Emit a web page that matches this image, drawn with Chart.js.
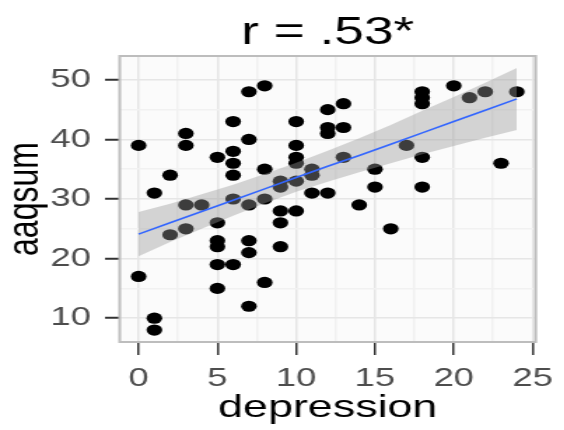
<!DOCTYPE html>
<html>
<head>
<meta charset="utf-8">
<script src="https://cdn.jsdelivr.net/npm/chart.js@4"></script>
<style>
  html, body { margin: 0; padding: 0; background: #fff; }
  /* the reference is stretched sideways, so draw narrow and widen */
  #wrap { width: 403px; height: 430px; transform: scaleX(1.4); transform-origin: 0 0; }
</style>
</head>
<body>
<div id="wrap"><canvas id="myChart"></canvas></div>
<script>
const depression = [0, 0, 1, 1, 1, 2, 2, 3, 3, 3, 3, 4,
  5, 5, 5, 5, 5, 5, 6, 6, 6, 6, 6, 6, 7, 7, 7, 7, 7, 7,
  8, 8, 8, 8, 9, 9, 9, 9, 9, 10, 10, 10, 10, 10, 10,
  11, 11, 11, 12, 12, 12, 12, 13, 13, 13, 14, 15, 15, 16, 17,
  18, 18, 18, 18, 18, 20, 21, 22, 23, 24];
const aaqsum = [39, 17, 31, 10, 8, 34, 24, 41, 39, 29, 25, 29,
  37, 26, 23, 22, 19, 15, 43, 38, 36, 34, 30, 19, 48, 40, 29, 23, 21, 12,
  49, 35, 30, 16, 33, 32, 28, 26, 22, 43, 39, 37, 36, 33, 28,
  35, 34, 31, 45, 42, 41, 31, 46, 42, 37, 29, 35, 32, 25, 39,
  48, 47, 46, 37, 32, 49, 47, 48, 36, 48];

// fitted line and its band
const fitX = [0, 2, 4, 6, 8, 10, 12, 14, 16, 18, 20, 22, 24];
const fitY = [24.1, 26.0, 27.9, 29.8, 31.7, 33.6, 35.5, 37.3, 39.2, 41.1, 43.0, 44.9, 46.8];
const bandHigh = [27.8, 29.2, 30.8, 32.4, 34.2, 36.1, 38.1, 40.2, 42.4, 44.8, 47.1, 49.5, 52.0];
const bandLow = [20.4, 22.8, 25.0, 27.2, 29.3, 31.2, 32.9, 34.5, 36.0, 37.5, 38.9, 40.3, 41.6];

const xTicks = [0, 5, 10, 15, 20, 25];
const xMinor = [2.5, 7.5, 12.5, 17.5, 22.5];
const yTicks = [10, 20, 30, 40, 50];
const yMinor = [15, 25, 35, 45];

const FONT = 'Liberation Sans, Arial, Helvetica, sans-serif';

const pts = depression.map((x, i) => ({ x: x, y: aaqsum[i] }));
const xy = (xs, ys) => xs.map((x, i) => ({ x: x, y: ys[i] }));

const panel = {
  id: 'panel',
  beforeDraw(chart) {
    const { ctx, chartArea: { left, top, width, height } } = chart;
    ctx.save();
    ctx.fillStyle = '#FBFBFB';
    ctx.fillRect(left, top, width, height);
    ctx.restore();
  },
  afterDraw(chart) {
    const { ctx, chartArea: { left, top, width, height } } = chart;
    ctx.save();
    ctx.strokeStyle = '#BDBDBD';
    ctx.lineWidth = 2;
    ctx.strokeRect(left, top, width, height);
    ctx.restore();
  }
};

const withMinor = (major, minor) => (scale) => {
  scale.ticks = major.concat(minor).sort((a, b) => a - b).map(v => ({ value: v }));
};

new Chart(document.getElementById('myChart'), {
  type: 'scatter',
  data: {
    datasets: [
      {
        type: 'line',
        data: xy(fitX, fitY),
        borderColor: '#3366FF',
        borderWidth: 1.6,
        pointRadius: 0,
        fill: false,
        order: 0
      },
      {
        type: 'line',
        data: xy(fitX, bandHigh),
        borderWidth: 0,
        pointRadius: 0,
        backgroundColor: 'rgba(153,153,153,0.4)',
        fill: { target: 2 },
        order: 1
      },
      {
        type: 'line',
        data: xy(fitX, bandLow),
        borderWidth: 0,
        pointRadius: 0,
        fill: false,
        order: 2
      },
      {
        data: pts,
        backgroundColor: '#000',
        borderWidth: 0,
        pointRadius: 5.6,
        order: 3
      }
    ]
  },
  options: {
    responsive: true,
    maintainAspectRatio: false,
    animation: false,
    layout: { padding: { right: 13 } },
    scales: {
      x: {
        type: 'linear',
        min: -1.2,
        max: 25.2,
        afterBuildTicks: withMinor(xTicks, xMinor),
        afterFit(scale) { scale.height = 88; },
        border: { display: false },
        grid: {
          color: c => xTicks.includes(c.tick.value) ? '#E6E6E6' : '#F1F1F1',
          lineWidth: 1.5,
          tickLength: 13,
          tickWidth: 1.5,
          tickColor: c => xTicks.includes(c.tick.value) ? '#333' : 'rgba(0,0,0,0)'
        },
        ticks: {
          callback: v => xTicks.includes(v) ? String(v) : '',
          font: { size: 26, family: FONT },
          color: '#4D4D4D',
          padding: 8,
          maxRotation: 0,
          autoSkip: false
        },
        title: {
          display: true,
          text: 'depression',
          font: { size: 32, family: FONT },
          color: '#000',
          padding: { top: 0, bottom: 3 }
        }
      },
      y: {
        type: 'linear',
        min: 6,
        max: 54,
        afterBuildTicks: withMinor(yTicks, yMinor),
        afterFit(scale) { scale.width = 85.5; },
        border: { display: false },
        grid: {
          color: c => yTicks.includes(c.tick.value) ? '#E6E6E6' : '#F1F1F1',
          lineWidth: 1.5,
          tickLength: 10.5,
          tickWidth: 2,
          tickColor: c => yTicks.includes(c.tick.value) ? '#333' : 'rgba(0,0,0,0)'
        },
        ticks: {
          callback: v => yTicks.includes(v) ? String(v) : '',
          font: { size: 26, family: FONT },
          color: '#4D4D4D',
          padding: 10,
          autoSkip: false
        },
        title: {
          display: true,
          text: 'aaqsum',
          font: { size: 32, family: FONT, lineHeight: 1 },
          color: '#000',
          padding: { top: 2.5, bottom: 0 }
        }
      }
    },
    plugins: {
      legend: { display: false },
      tooltip: { enabled: false },
      title: {
        display: true,
        fullSize: false,
        text: 'r = .53*',
        font: { size: 38, family: FONT, weight: 'normal' },
        color: '#000',
        padding: { top: 10.4, bottom: 0 }
      }
    }
  },
  plugins: [panel]
});
</script>
</body>
</html>
